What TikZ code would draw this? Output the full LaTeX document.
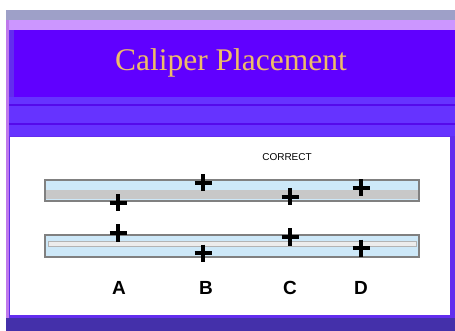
\documentclass[tikz,border=0pt]{standalone}
\usepackage{fontspec}
\setmainfont{Liberation Serif}
\setsansfont{Liberation Sans}
\definecolor{framec}{RGB}{98,45,238}
\definecolor{topgray}{RGB}{158,160,200}
\definecolor{lilac}{RGB}{204,150,255}
\definecolor{pinkstripe}{RGB}{190,120,235}
\definecolor{headerc}{RGB}{96,0,255}
\definecolor{bandc}{RGB}{102,51,255}
\definecolor{bandline}{RGB}{85,10,235}
\definecolor{bottomc}{RGB}{68,48,170}
\definecolor{titlec}{RGB}{238,188,104}
\definecolor{barblue}{RGB}{205,232,248}
\definecolor{bargray}{RGB}{200,200,200}
\definecolor{barborder}{RGB}{128,128,128}
\tikzset{
  barbox/.style={draw=barborder, line width=1.4pt, fill=barblue},
  plusmark/.pic={\draw[line width=4pt, black] (-8.5,0) -- (8.5,0) (0,-8.5) -- (0,8.5);},
  letter/.style={font=\sffamily\bfseries\fontsize{19}{19}\selectfont, inner sep=0pt}
}
\begin{document}
\begin{tikzpicture}[x=1pt,y=-1pt]
\useasboundingbox (0,0) rectangle (455,331);
\fill[white] (0,0) rectangle (455,331);
\fill[framec] (6,10) rectangle (455,331);
\fill[topgray] (6,10) rectangle (455,20);
\fill[lilac] (6,20) rectangle (455,30);
\fill[pinkstripe] (6,20) rectangle (9,318);
\fill[headerc] (14,30) rectangle (455,97);
\fill[bandc] (9,97) rectangle (455,136);
\fill[bandline] (9,104) rectangle (455,106);
\fill[bandline] (9,123) rectangle (455,125);
\fill[white] (10,137.5) rectangle (450,315);
\fill[bottomc] (6,318) rectangle (455,331);
\node[text=titlec, font=\fontsize{31.5}{31.5}\selectfont, anchor=base] (title) at (231,71) {Caliper Placement};
\node[font=\sffamily\fontsize{10}{10}\selectfont, inner sep=0pt] (correct) at (287,157) {CORRECT};
% bars
\draw[barbox] (45,180) rectangle (419,201);
\fill[bargray] (46,190) rectangle (418,199);
\draw[barbox] (45,235) rectangle (419,257);
\draw[barborder!60, fill=bargray!35, line width=0.7pt] (48,241) rectangle (416,246);
% plus marks
\pic at (118,203) {plusmark};
\pic at (118,233) {plusmark};
\pic at (203,183) {plusmark};
\pic at (203,253) {plusmark};
\pic at (290,197) {plusmark};
\pic at (290,237) {plusmark};
\pic at (361,188) {plusmark};
\pic at (361,248) {plusmark};
% labels
\node[letter] (la) at (119,288) {A};
\node[letter] (lb) at (206,288) {B};
\node[letter] (lc) at (290,288) {C};
\node[letter] (ld) at (361,288) {D};
\end{tikzpicture}
\end{document}
